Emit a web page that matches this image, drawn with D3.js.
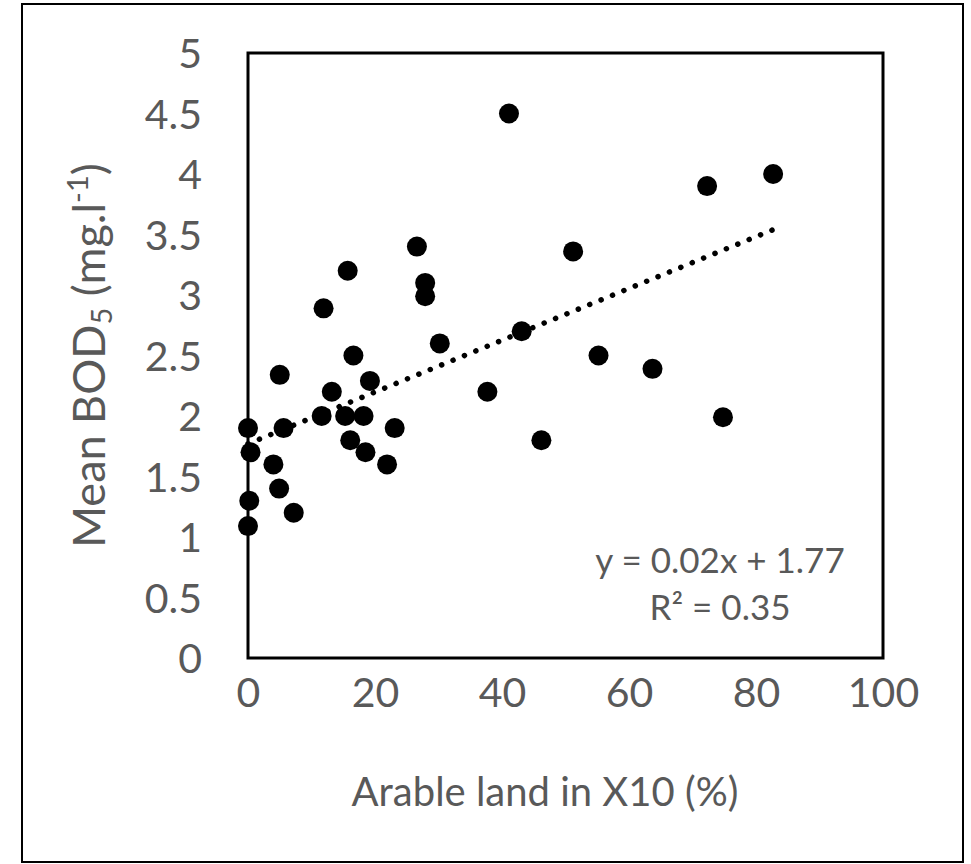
<!DOCTYPE html>
<html>
<head>
<meta charset="utf-8">
<script src="https://cdn.jsdelivr.net/npm/d3@7/dist/d3.min.js"></script>
<style>
  html, body { margin: 0; padding: 0; background: #fff; }
  svg { display: block; }
  text { font-family: Lato, "Open Sans", sans-serif; fill: #595959; }
</style>
</head>
<body>
<svg id="chart" width="971" height="864"></svg>
<script>
// Arable land share (%) and mean BOD5 (mg/l) per catchment
const arableLand = [
  41.1, 82.7, 72.3, 26.6, 51.2, 15.7, 27.9, 27.9, 11.9, 43.1,
  30.2, 16.6, 55.2, 63.7, 5.0, 19.2, 13.2, 37.7, 11.6, 15.3,
  18.2, 74.8, 0.0, 5.6, 23.1, 16.1, 46.2, 0.4, 18.5, 4.0,
  21.9, 4.9, 0.2, 7.2, 0.0
];
const meanBOD = [
  4.50, 4.00, 3.90, 3.40, 3.36, 3.20, 3.10, 2.99, 2.89, 2.70,
  2.60, 2.50, 2.50, 2.39, 2.34, 2.29, 2.20, 2.20, 2.00, 2.00,
  2.00, 1.99, 1.90, 1.90, 1.90, 1.80, 1.80, 1.70, 1.70, 1.60,
  1.60, 1.40, 1.30, 1.20, 1.09
];

// Linear trendline
const trendSlope = 0.0214;
const trendIntercept = 1.77;
const rSquared = 0.35;

const xTicks = [0, 20, 40, 60, 80, 100];
const yTicks = [0, 0.5, 1, 1.5, 2, 2.5, 3, 3.5, 4, 4.5, 5];

const xTitle = "Arable land in X10 (%)";

const svg = d3.select("#chart");

const plot = { left: 248, right: 883, top: 53, bottom: 658 };

const x = d3.scaleLinear().domain([0, 100]).range([plot.left, plot.right]);
const y = d3.scaleLinear().domain([0, 5]).range([plot.bottom, plot.top]);

// Outer frame
svg.append("rect")
  .attr("x", 22).attr("y", 4)
  .attr("width", 941).attr("height", 858)
  .attr("fill", "none")
  .attr("stroke", "#000")
  .attr("stroke-width", 2);

// Plot area frame
svg.append("rect")
  .attr("x", plot.left).attr("y", plot.top)
  .attr("width", plot.right - plot.left)
  .attr("height", plot.bottom - plot.top)
  .attr("fill", "none")
  .attr("stroke", "#000")
  .attr("stroke-width", 3);

// Axes (labels only)
const xAxis = svg.append("g")
  .attr("transform", `translate(0,${plot.bottom})`)
  .call(d3.axisBottom(x).tickValues(xTicks).tickSize(0).tickPadding(49).tickFormat(d3.format("d")));
const yAxis = svg.append("g")
  .attr("transform", `translate(${plot.left},0)`)
  .call(d3.axisLeft(y).tickValues(yTicks).tickSize(0).tickPadding(46).tickFormat(d => String(d)));

[xAxis, yAxis].forEach(g => {
  g.select(".domain").remove();
  g.selectAll("text")
    .style("font-family", "Lato, 'Open Sans', sans-serif")
    .style("font-size", "41px")
    .attr("fill", "#595959");
});
xAxis.selectAll("text").attr("dy", "0");
yAxis.selectAll("text").attr("dy", "0.36em");

// Scatter points
const points = arableLand.map((v, i) => ({ x: v, y: meanBOD[i] }));
svg.append("g")
  .selectAll("circle")
  .data(points)
  .join("circle")
  .attr("cx", d => x(d.x))
  .attr("cy", d => y(d.y))
  .attr("r", 10)
  .attr("fill", "#000");

// Dotted trendline across the data range
const xMin = d3.min(arableLand), xMax = d3.max(arableLand);
svg.append("line")
  .attr("x1", x(xMin)).attr("y1", y(trendIntercept + trendSlope * xMin))
  .attr("x2", x(xMax)).attr("y2", y(trendIntercept + trendSlope * xMax))
  .attr("stroke", "#000")
  .attr("stroke-width", 5.5)
  .attr("stroke-linecap", "round")
  .attr("stroke-dasharray", "0.1 12.2");

// Trendline equation
const fmt = d3.format(".2f");
svg.append("text")
  .attr("x", 720).attr("y", 573)
  .attr("text-anchor", "middle")
  .style("font-size", "35px")
  .text(`y = ${fmt(trendSlope)}x + ${fmt(trendIntercept)}`);
svg.append("text")
  .attr("x", 720).attr("y", 620)
  .attr("text-anchor", "middle")
  .style("font-size", "35px")
  .text(`R² = ${fmt(rSquared)}`);

// Axis titles
svg.append("text")
  .attr("x", 545).attr("y", 806)
  .attr("text-anchor", "middle")
  .style("font-size", "40px")
  .text(xTitle);

const yTitle = svg.append("text")
  .attr("transform", `translate(105,${(plot.top + plot.bottom) / 2}) rotate(-90)`)
  .attr("text-anchor", "middle")
  .style("font-size", "45px");
yTitle.append("tspan").text("Mean BOD");
yTitle.append("tspan").attr("baseline-shift", "-25%").style("font-size", "29px").text("5");
yTitle.append("tspan").text(" (mg.l");
yTitle.append("tspan").attr("baseline-shift", "super").style("font-size", "29px").text("-1");
yTitle.append("tspan").text(")");
</script>
</body>
</html>
